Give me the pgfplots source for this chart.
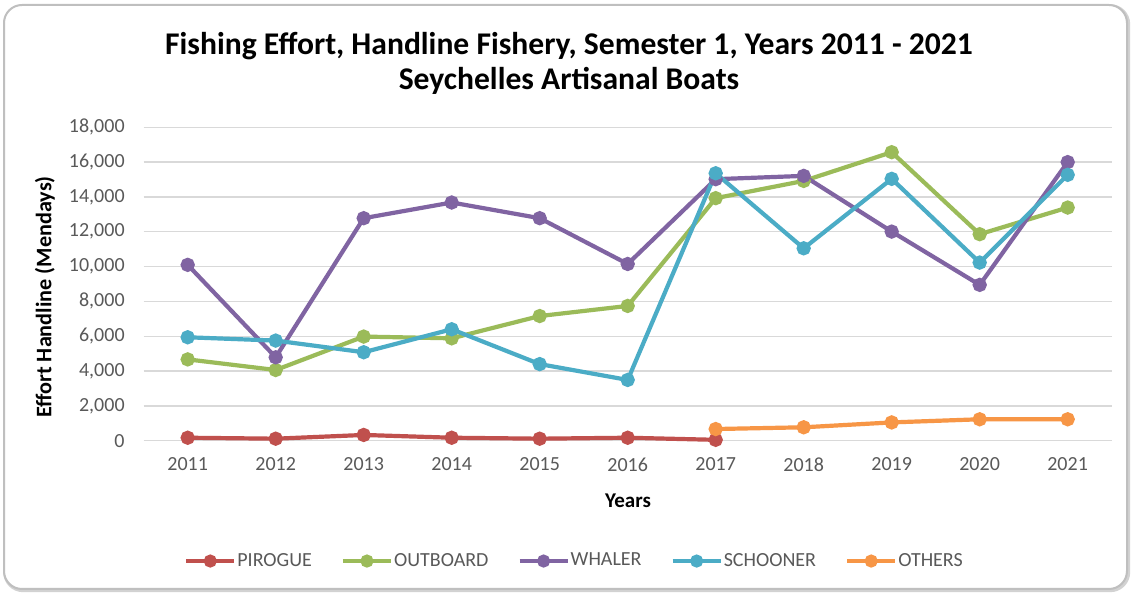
\documentclass[border=0pt]{standalone}
\usepackage{pgfplots}
\pgfplotsset{compat=1.18}
\usepackage{fontspec}
\setmainfont{Carlito}
\definecolor{cRed}{HTML}{C0504D}
\definecolor{cGreen}{HTML}{9BBB59}
\definecolor{cPurple}{HTML}{8064A2}
\definecolor{cAqua}{HTML}{4BACC6}
\definecolor{cOrange}{HTML}{F79646}
\definecolor{cGrid}{HTML}{D9D9D9}
\definecolor{cText}{HTML}{595959}
\begin{document}
\begin{tikzpicture}
\path[use as bounding box] (0,0) rectangle (566pt,297pt);
\draw[rounded corners=9pt, draw=gray!35, line width=2pt] (2.6pt,1.9pt) rectangle (564.1pt,293.9pt);
\draw[rounded corners=9pt, draw=gray!50, line width=1pt, fill=white] (2pt,2.5pt) rectangle (563.5pt,294.5pt);
\begin{axis}[
  at={(71.85pt,76.65pt)}, anchor=south west,
  scale only axis, width=484pt, height=156.7pt,
  xmin=2010.5, xmax=2021.5, ymin=0, ymax=18000,
  xtick={2011,...,2021}, ytick={0,2000,...,18000},
  axis line style={draw=none},
  major tick length=0pt,
  ymajorgrids, grid style={cGrid, line width=0.7pt},
  tick label style={font=\fontsize{10pt}{12pt}\selectfont, text=cText},
  /pgf/number format/assume math mode=true,
  /pgf/number format/1000 sep={,},
  scaled y ticks=false,
  xticklabel style={/pgf/number format/1000 sep=, yshift=-5pt},
  yticklabel style={xshift=-6pt},
  legend columns=5,
  legend style={at={(0.4445,-0.384)}, anchor=center, draw=none, fill=none,
    font=\fontsize{10pt}{12pt}\selectfont, text=cText,
    nodes={inner sep=0.5pt},
    /tikz/every even column/.append style={column sep=14pt},
    inner sep=0pt},
  legend cell align=left,
  legend image code/.code={\draw[#1, mark repeat=2, mark phase=2, mark size=2.2pt] plot coordinates {(0pt,0pt) (12pt,0pt) (24pt,0pt)};},
  every axis plot/.append style={line width=2.1pt, mark=*, mark size=2.5pt},
  clip=false,
]
\addplot[cRed, mark options={solid, fill=cRed}] coordinates {(2011,170) (2012,115) (2013,330) (2014,170) (2015,115) (2016,170) (2017,50)};
\addlegendentry{PIROGUE}
\addplot[cGreen, mark options={solid, fill=cGreen}] coordinates {(2011,4670) (2012,4060) (2013,5980) (2014,5880) (2015,7160) (2016,7740) (2017,13930) (2018,14920) (2019,16570) (2020,11860) (2021,13390)};
\addlegendentry{OUTBOARD}
\addplot[cPurple, mark options={solid, fill=cPurple}] coordinates {(2011,10100) (2012,4790) (2013,12780) (2014,13680) (2015,12780) (2016,10150) (2017,15020) (2018,15210) (2019,12010) (2020,8950) (2021,16000)};
\addlegendentry{WHALER}
\addplot[cAqua, mark options={solid, fill=cAqua}] coordinates {(2011,5940) (2012,5750) (2013,5080) (2014,6400) (2015,4400) (2016,3490) (2017,15360) (2018,11050) (2019,15040) (2020,10230) (2021,15270)};
\addlegendentry{SCHOONER}
\addplot[cOrange, mark options={solid, fill=cOrange}] coordinates {(2017,670) (2018,770) (2019,1050) (2020,1230) (2021,1230)};
\addlegendentry{OTHERS}
\end{axis}
\node[font=\fontsize{15.8pt}{18pt}\selectfont\bfseries] at (284.5pt,274pt) {Fishing Effort, Handline Fishery, Semester 1, Years 2011 - 2021};
\node[font=\fontsize{15.8pt}{18pt}\selectfont\bfseries] at (284.5pt,256.5pt) {Seychelles Artisanal Boats};
\node[font=\fontsize{11.1pt}{13pt}\selectfont\bfseries, rotate=90] at (22.5pt,148.5pt) {Effort Handline (Mendays)};
\node[font=\fontsize{10.5pt}{12pt}\selectfont\bfseries] at (314pt,46.5pt) {Years};
\end{tikzpicture}
\end{document}
